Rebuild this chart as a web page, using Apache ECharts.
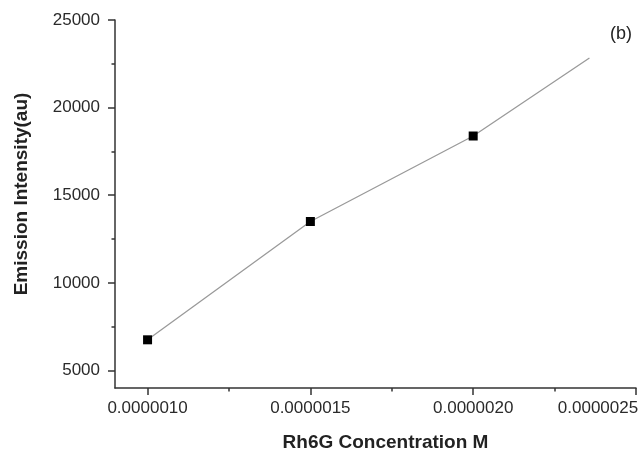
<!DOCTYPE html>
<html>
<head>
<meta charset="utf-8">
<script src="https://cdn.jsdelivr.net/npm/echarts@6/dist/echarts.min.js"></script>
<style>html,body{margin:0;padding:0;background:#fff;}#c{width:642px;height:451px;}</style>
</head>
<body>
<div id="c"></div>
<script>
// Data
var concentrations = [0.0000010, 0.0000015, 0.0000020];
var intensities = [6750, 13500, 18380];
var lineEnd = [0.000002357, 22830];
var xTickLabels = [0.0000010, 0.0000015, 0.0000020, 0.0000025];
var xMinorTicks = [0.00000125, 0.00000175, 0.00000225];
var yTickLabels = [5000, 10000, 15000, 20000, 25000];
var yMinorTicks = [7500, 12500, 17500, 22500];

var seriesData = concentrations.map(function (c, i) { return [c, intensities[i]]; });
seriesData.push({ value: lineEnd, symbol: 'none' });

var font = 'Liberation Sans, Arial, sans-serif';
var axisColor = '#333';
var labelColor = '#2a2a2a';
var xLast = xTickLabels[xTickLabels.length - 1];

var chart = echarts.init(document.getElementById('c'));
chart.setOption({
  backgroundColor: '#fff',
  animation: false,
  grid: { left: 115, right: 6, top: 20, bottom: 63, containLabel: false, outerBoundsMode: 'none' },
  xAxis: [{
    type: 'value', position: 'bottom',
    min: 0.0000009, max: 0.0000025,
    name: 'Rh6G Concentration M', nameLocation: 'middle', nameGap: 45,
    nameTextStyle: { fontFamily: font, fontWeight: 'bold', fontSize: 19, color: '#222', padding: [0, 0, 0, 20] },
    axisLine: { show: true, lineStyle: { color: axisColor, width: 1.5 } },
    axisTick: { show: true, inside: false, length: 7, customValues: xTickLabels, lineStyle: { color: axisColor, width: 1.5 } },
    axisLabel: { customValues: xTickLabels, margin: 12, fontFamily: font, fontSize: 17, color: labelColor,
      hideOverlap: false, showMinLabel: true, showMaxLabel: true,
      formatter: function (v) {
        var s = v.toFixed(7);
        return Math.abs(v - xLast) < 1e-12 ? '{last|' + s + '}' : s;
      },
      rich: { last: { fontFamily: font, fontSize: 17, color: labelColor, padding: [0, 76, 0, 0] } } },
    splitLine: { show: false }
  }, {
    type: 'value', position: 'bottom',
    min: 0.0000009, max: 0.0000025,
    axisLine: { show: false },
    axisTick: { show: true, length: 3.5, customValues: xMinorTicks, lineStyle: { color: axisColor, width: 1.5 } },
    axisLabel: { show: false },
    splitLine: { show: false }
  }],
  yAxis: [{
    type: 'value', position: 'left',
    min: 4000, max: 25000,
    name: 'Emission Intensity(au)', nameLocation: 'middle', nameGap: 84, nameRotate: 90,
    nameTextStyle: { fontFamily: font, fontWeight: 'bold', fontSize: 19, color: '#222', padding: [0, 0, 0, 20] },
    axisLine: { show: true, lineStyle: { color: axisColor, width: 1.5 } },
    axisTick: { show: true, inside: false, length: 7, customValues: yTickLabels, lineStyle: { color: axisColor, width: 1.5 } },
    axisLabel: { customValues: yTickLabels, margin: 15, fontFamily: font, fontSize: 17, color: labelColor,
      formatter: function (v) { return String(v); } },
    splitLine: { show: false }
  }, {
    type: 'value', position: 'left',
    min: 4000, max: 25000,
    axisLine: { show: false },
    axisTick: { show: true, length: 3.5, customValues: yMinorTicks, lineStyle: { color: axisColor, width: 1.5 } },
    axisLabel: { show: false },
    splitLine: { show: false }
  }],
  series: [{
    type: 'line',
    xAxisIndex: 0, yAxisIndex: 0,
    data: seriesData,
    symbol: 'rect', symbolSize: 9,
    itemStyle: { color: '#000' },
    lineStyle: { color: '#9a9a9a', width: 1.3 },
    z: 3
  }],
  graphic: [{
    type: 'text', left: 610, top: 25,
    style: { text: '(b)', font: '18px Liberation Sans, Arial, sans-serif', fill: '#222' }
  }]
});
</script>
</body>
</html>
